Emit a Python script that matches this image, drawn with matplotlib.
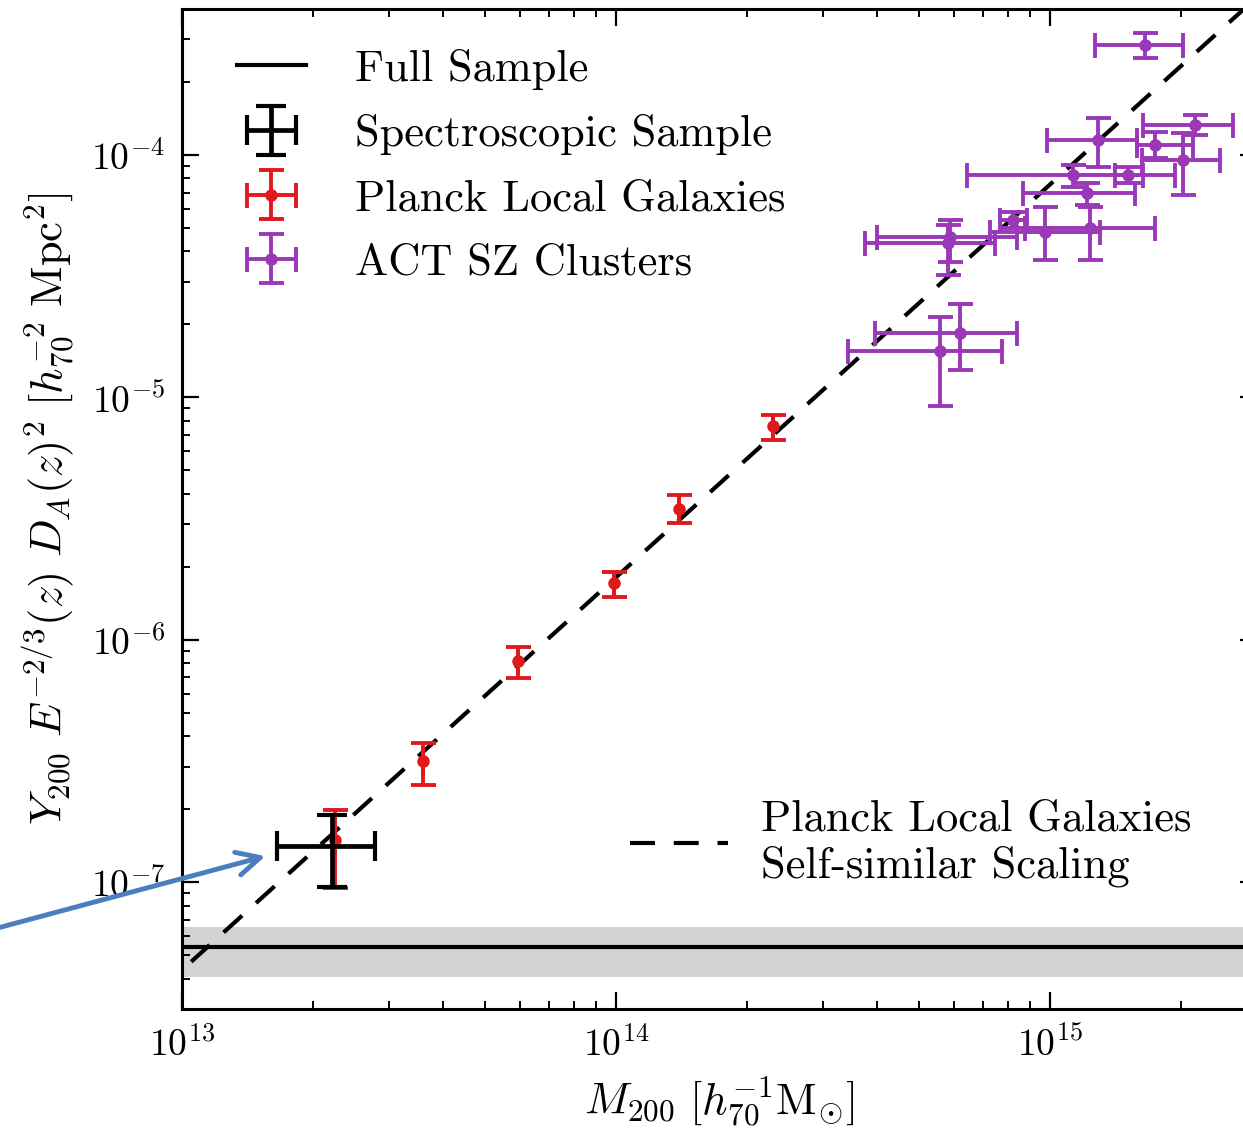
import numpy as np
import matplotlib
matplotlib.use("Agg")
import matplotlib.pyplot as plt
from matplotlib.lines import Line2D
from matplotlib.container import ErrorbarContainer
from matplotlib.legend_handler import HandlerErrorbar

plt.rcParams['font.family'] = 'serif'
plt.rcParams['font.serif'] = ['cmr10']
plt.rcParams['mathtext.fontset'] = 'cm'
plt.rcParams['axes.formatter.use_mathtext'] = True

# Full sample stacked signal (line + 1 sigma band)
full_y = 5.40e-8
full_lo, full_hi = 4.05e-8, 6.55e-8

# Spectroscopic sample
spec_m = [2.22e13]
spec_m_lo = [1.66e13]
spec_m_hi = [2.78e13]
spec_y = [1.41e-7]
spec_y_lo = [9.6e-8]
spec_y_hi = [1.89e-7]

# Planck local galaxies
planck_m = [2.25e13, 3.59e13, 5.94e13, 9.89e13, 1.40e14, 2.30e14]
planck_y = [1.49e-7, 3.15e-7, 8.2e-7, 1.72e-6, 3.46e-6, 7.6e-6]
planck_y_lo = [9.5e-8, 2.51e-7, 6.98e-7, 1.50e-6, 3.03e-6, 6.65e-6]
planck_y_hi = [1.98e-7, 3.77e-7, 9.35e-7, 1.90e-6, 3.95e-6, 8.5e-6]

# ACT SZ clusters
act_m = [1.655e15, 1.290e15, 2.159e15, 1.745e15, 2.025e15, 1.130e15, 1.512e15, 1.217e15,
         8.22e14, 9.74e14, 1.236e15, 5.88e14, 5.82e14, 6.20e14, 5.58e14]
act_m_lo = [1.270e15, 9.84e14, 1.638e15, 1.587e15, 1.629e15, 6.44e14, 1.411e15, 8.67e14,
            7.67e14, 7.27e14, 8.76e14, 3.99e14, 3.75e14, 3.95e14, 3.42e14]
act_m_hi = [2.025e15, 1.587e15, 2.641e15, 2.135e15, 2.465e15, 1.941e15, 1.638e15, 1.570e15,
            8.85e14, 1.304e15, 1.745e15, 8.39e14, 7.47e14, 8.39e14, 7.75e14]
act_y = [2.836e-4, 1.153e-4, 1.329e-4, 1.099e-4, 9.54e-5, 8.27e-5, 8.27e-5, 6.98e-5,
         5.40e-5, 4.82e-5, 5.01e-5, 4.60e-5, 4.34e-5, 1.85e-5, 1.55e-5]
act_y_lo = [2.506e-4, 8.93e-5, 1.209e-4, 9.72e-5, 6.84e-5, 7.38e-5, 7.67e-5, 6.22e-5,
            5.01e-5, 3.70e-5, 3.70e-5, 3.63e-5, 3.21e-5, 1.30e-5, 9.2e-6]
act_y_hi = [3.178e-4, 1.420e-4, 1.461e-4, 1.244e-4, 1.232e-4, 9.10e-5, 8.93e-5, 7.67e-5,
            5.82e-5, 6.11e-5, 6.11e-5, 5.40e-5, 5.15e-5, 2.42e-5, 2.15e-5]

# self-similar scaling: Y = norm * (M / 1e14)^slope
ss_norm = 1.81e-6
ss_slope = 1.62


def errs(c, lo, hi):
    c, lo, hi = np.array(c), np.array(lo), np.array(hi)
    return np.vstack([c - lo, hi - c])


PURPLE = '#9a38b8'
RED = '#e0191c'
FS = 32

fig = plt.figure(figsize=(12.43, 11.29), dpi=100)
ax = fig.add_axes([0.1464, 0.1063, 0.8648, 0.8857])
ax.set_xscale('log')
ax.set_yscale('log')
ax.set_xlim(1e13, 3e15)
ax.set_ylim(3e-8, 4e-4)

ax.axhspan(full_lo, full_hi, color='#d3d3d3', lw=0, zorder=1)
ax.axhline(full_y, color='black', lw=3, zorder=2)

mm = np.logspace(np.log10(1.05e13), np.log10(3e15), 200)
ax.plot(mm, ss_norm * (mm / 1e14) ** ss_slope, color='black', lw=3,
        dashes=(6, 4.5), zorder=3)

ebkw = dict(elinewidth=2.8, capsize=9, capthick=2.8, zorder=4)
act = ax.errorbar(act_m, act_y, xerr=errs(act_m, act_m_lo, act_m_hi),
                  yerr=errs(act_y, act_y_lo, act_y_hi), fmt='o', ms=8,
                  color=PURPLE, **ebkw)
# zero-width mass errors: caps sit on the vertical bar, but the legend shows a cross
planck = ax.errorbar(planck_m, planck_y, xerr=np.zeros((2, len(planck_m))),
                     yerr=errs(planck_y, planck_y_lo, planck_y_hi),
                     fmt='o', ms=8, color=RED, **ebkw)
spec = ax.errorbar(spec_m, spec_y, xerr=errs(spec_m, spec_m_lo, spec_m_hi),
                   yerr=errs(spec_y, spec_y_lo, spec_y_hi), fmt='none',
                   ecolor='black', elinewidth=3.4, capsize=11, capthick=3, zorder=5)

leg1 = ax.legend([Line2D([], [], color='black', lw=3), spec, planck, act],
                 ['Full Sample', 'Spectroscopic Sample', 'Planck Local Galaxies', 'ACT SZ Clusters'],
                 handler_map={ErrorbarContainer: HandlerErrorbar(xerr_size=0.55)},
                 loc='upper left', bbox_to_anchor=(0.051, 0.960), frameon=False,
                 fontsize=FS, handlelength=1.55, handletextpad=1.1, labelspacing=0.54,
                 borderpad=0, borderaxespad=0)
ax.add_artist(leg1)
ax.legend([Line2D([], [], color='black', lw=3, dashes=(6, 4.5))],
          ['Planck Local Galaxies\nSelf-similar Scaling'],
          loc='upper left', bbox_to_anchor=(0.417, 0.210), frameon=False,
          fontsize=FS, handlelength=2.2, handletextpad=0.75,
          borderpad=0, borderaxespad=0)

ax.set_xlabel(r'$M_{200}\ [h_{70}^{-1}\mathrm{M}_{\odot}]$', fontsize=32, labelpad=8)
ax.set_ylabel(r'$Y_{200}\ E^{-2/3}(z)\ D_A(z)^2\ [h_{70}^{-2}\ \mathrm{Mpc}^2]$',
              fontsize=32, labelpad=10)

ax.tick_params(which='both', direction='in', top=True, right=True, labelsize=27)
ax.tick_params(which='major', length=12, width=1.6, pad=12)
ax.tick_params(which='minor', length=6, width=1.4)
for s in ax.spines.values():
    s.set_linewidth(2.2)

# blue pointer to the spectroscopic sample
ax.annotate('', xy=(1.58e13, 1.29e-7), xycoords='data',
            xytext=(-0.02, 0.1727), textcoords='figure fraction',
            arrowprops=dict(arrowstyle='->', color='#4a7ebd', lw=3.5, mutation_scale=42),
            annotation_clip=False)

fig.savefig('out.png', dpi=100)
